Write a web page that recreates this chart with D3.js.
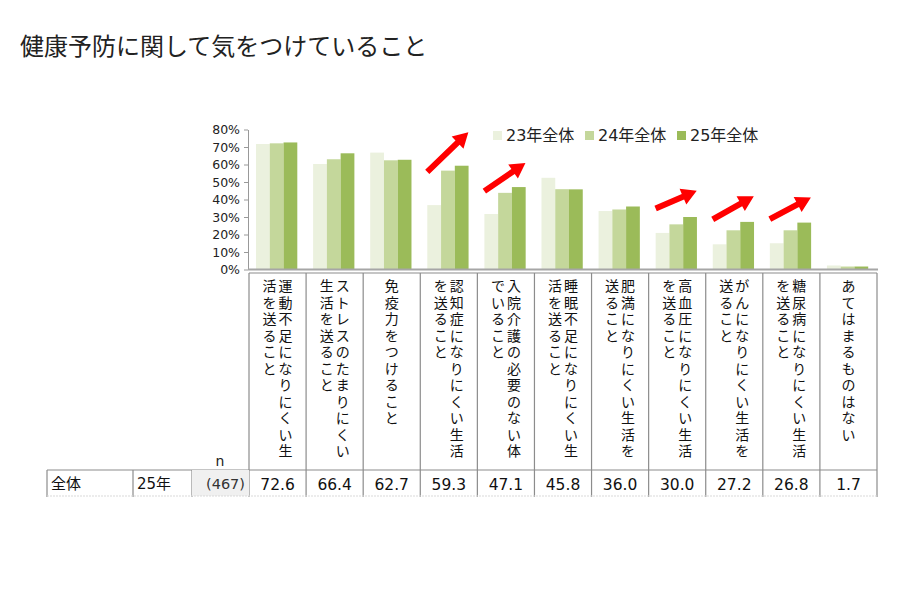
<!DOCTYPE html>
<html>
<head>
<meta charset="utf-8">
<script src="https://cdn.jsdelivr.net/npm/d3@7"></script>
<style>
  body { margin: 0; background: #fff; }
  svg { display: block; }
  text { font-family: "DejaVu Sans", "Noto Sans CJK JP", sans-serif; }
  .jp { font-family: "Noto Sans CJK JP", sans-serif; }
</style>
</head>
<body>
<svg id="chart" width="900" height="600"></svg>
<script>
// category labels, already broken into the columns the reference uses
const labelLines = [
  ["運動不足になりにくい生", "活を送ること"],
  ["ストレスのたまりにくい", "生活を送ること"],
  ["免疫力をつけること"],
  ["認知症になりにくい生活", "を送ること"],
  ["入院介護の必要のない体", "でいること"],
  ["睡眠不足になりにくい生", "活を送ること"],
  ["肥満になりにくい生活を", "送ること"],
  ["高血圧になりにくい生活", "を送ること"],
  ["がんになりにくい生活を", "送ること"],
  ["糖尿病になりにくい生活", "を送ること"],
  ["あてはまるものはない"]
];
const categories = labelLines.map(l => l.join(""));

const series = ["23年全体", "24年全体", "25年全体"];
const colors = ["#ebf1de", "#c4d79b", "#9bbb59"];

const values23 = [71.7, 60.3, 66.8, 36.8, 31.7, 52.4, 33.4, 20.9, 14.4, 15.0, 2.3];
const values24 = [72.1, 63.0, 62.4, 56.5, 43.8, 45.9, 34.3, 25.8, 22.4, 22.4, 1.7];
const values25 = [72.6, 66.4, 62.7, 59.3, 47.1, 45.8, 36.0, 30.0, 27.2, 26.8, 1.7];
const seriesValues = [values23, values24, values25];

const yTicks = [0, 10, 20, 30, 40, 50, 60, 70, 80];

// red arrows: category and start/end level in %
const arrows = [
  { cat: categories[3], from: 55.8, to: 78.5 },
  { cat: categories[4], from: 44.8, to: 60.9 },
  { cat: categories[7], from: 34.9, to: 45.0 },
  { cat: categories[8], from: 28.7, to: 41.8 },
  { cat: categories[9], from: 28.8, to: 41.2 }
];

const rowHead = ["全体", "25年"];
const rowN = "(467)";

const svg = d3.select("#chart");

svg.append("text")
   .attr("class", "jp")
   .attr("x", 20).attr("y", 55)
   .attr("font-size", 24)
   .attr("fill", "#222")
   .text("健康予防に関して気をつけていること");

const x0 = d3.scaleBand().domain(categories).range([249, 877]).padding(0);
const bw = x0.bandwidth();
const x1 = d3.scaleBand().domain(series).range([bw * 0.123, bw * 0.846]).padding(0);
const y = d3.scaleLinear().domain([0, 80]).range([269.5, 129.5]);

// y axis
const yAxis = svg.append("g")
   .attr("transform", "translate(248,0)")
   .call(d3.axisLeft(y).tickValues(yTicks).tickSize(4).tickSizeOuter(0).tickFormat(d => d + "%"));
yAxis.select(".domain").attr("stroke", "#999");
yAxis.selectAll(".tick line").attr("stroke", "#999");
yAxis.selectAll(".tick text")
   .attr("font-family", "DejaVu Sans")
   .attr("font-size", 12.5)
   .attr("fill", "#222")
   .attr("x", -8);

// bars
const groups = svg.append("g").selectAll("g")
   .data(categories)
   .enter()
   .append("g")
   .attr("transform", d => `translate(${x0(d)},0)`);

groups.selectAll("rect")
   .data((d, i) => series.map((s, k) => ({ s, k, v: seriesValues[k][i] })))
   .enter()
   .append("rect")
   .attr("x", d => x1(d.s))
   .attr("width", x1.bandwidth())
   .attr("y", d => y(d.v))
   .attr("height", d => y(0) - y(d.v))
   .attr("fill", d => colors[d.k]);

// x axis baseline
svg.append("line")
   .attr("x1", 248).attr("x2", 878)
   .attr("y1", y(0)).attr("y2", y(0))
   .attr("stroke", "#a6a6a6").attr("stroke-width", 2);

// arrows
function arrowPath(x1p, y1p, x2p, y2p) {
  const dx = x2p - x1p, dy = y2p - y1p;
  const L = Math.hypot(dx, dy);
  const ux = dx / L, uy = dy / L;
  const nx = -uy, ny = ux;
  const hl = 15, hw = 8.5, sw = 3;
  const bx = x2p - ux * hl, by = y2p - uy * hl;
  const pts = [
    [x1p + nx * sw, y1p + ny * sw],
    [bx + nx * sw, by + ny * sw],
    [bx + nx * hw, by + ny * hw],
    [x2p, y2p],
    [bx - nx * hw, by - ny * hw],
    [bx - nx * sw, by - ny * sw],
    [x1p - nx * sw, y1p - ny * sw]
  ];
  return "M" + pts.map(p => p.join(",")).join("L") + "Z";
}

svg.append("g").selectAll("path")
   .data(arrows)
   .enter()
   .append("path")
   .attr("d", d => arrowPath(x0(d.cat) + 7, y(d.from), x0(d.cat) + bw - 9, y(d.to)))
   .attr("fill", "#ff0000");

// legend
const legend = svg.append("g").selectAll("g")
   .data(series)
   .enter()
   .append("g")
   .attr("transform", (d, i) => `translate(${493 + i * 92},131)`);
legend.append("rect")
   .attr("width", 9).attr("height", 9)
   .attr("fill", (d, i) => colors[i]);
legend.append("text")
   .attr("x", 13).attr("y", 10)
   .attr("font-size", 16)
   .attr("fill", "#222")
   .text(d => d);

// label table
const tableTop = 273, rowTop = 470, rowBottom = 496;
const grid = svg.append("g").attr("stroke", "#8c8c8c").attr("stroke-width", 1.2);

grid.append("line").attr("x1", 249).attr("x2", 877).attr("y1", tableTop).attr("y2", tableTop);
grid.selectAll("line.col")
   .data(categories.concat(["_end"]))
   .enter()
   .append("line")
   .attr("class", "col")
   .attr("x1", d => d === "_end" ? 877 : x0(d))
   .attr("x2", d => d === "_end" ? 877 : x0(d))
   .attr("y1", tableTop).attr("y2", rowBottom + 1);

svg.append("rect")
   .attr("x", 192).attr("y", rowTop)
   .attr("width", 249 - 192).attr("height", rowBottom - rowTop)
   .attr("fill", "#f0f0f0");

grid.append("line").attr("x1", 47).attr("x2", 877).attr("y1", rowTop).attr("y2", rowTop);
grid.selectAll("line.head")
   .data([47, 133, 192])
   .enter()
   .append("line")
   .attr("class", "head")
   .attr("x1", d => d).attr("x2", d => d)
   .attr("y1", rowTop).attr("y2", rowBottom + 1);
svg.append("line")
   .attr("x1", 47).attr("x2", 877)
   .attr("y1", rowBottom).attr("y2", rowBottom)
   .attr("stroke", "#d9d9d9").attr("stroke-dasharray", "2,1");

// vertical category labels, one glyph per text, columns right to left
const pitch = 16.5;
const labelG = svg.append("g").selectAll("g")
   .data(labelLines)
   .enter()
   .append("g")
   .attr("transform", (d, i) => `translate(${x0(categories[i]) + bw / 2},0)`);

labelG.each(function (lines) {
  const g = d3.select(this);
  lines.forEach((line, j) => {
    const cx = lines.length === 1 ? 0 : 8 - j * 16;
    g.selectAll(null)
     .data(Array.from(line))
     .enter()
     .append("text")
     .attr("class", "jp")
     .attr("x", cx)
     .attr("y", (c, k) => 285 + k * pitch)
     .attr("text-anchor", "middle")
     .attr("dominant-baseline", "central")
     .attr("font-size", 14)
     .attr("fill", "#111")
     .text(c => c);
  });
});

svg.append("text")
   .attr("x", 220).attr("y", 466)
   .attr("text-anchor", "middle")
   .attr("font-size", 14)
   .attr("fill", "#222")
   .text("n");

// data row
svg.append("text").attr("class", "jp")
   .attr("x", 51).attr("y", 489)
   .attr("font-size", 15).attr("fill", "#111")
   .text(rowHead[0]);
svg.append("text")
   .attr("x", 137).attr("y", 489)
   .attr("font-size", 15).attr("fill", "#111")
   .text(rowHead[1]);
svg.append("text")
   .attr("x", 245).attr("y", 489)
   .attr("text-anchor", "end")
   .attr("font-size", 14.5).attr("fill", "#333")
   .text(rowN);

svg.append("g").selectAll("text")
   .data(values25)
   .enter()
   .append("text")
   .attr("x", (d, i) => x0(categories[i]) + bw / 2)
   .attr("y", 490)
   .attr("text-anchor", "middle")
   .attr("font-size", 15.5)
   .attr("fill", "#111")
   .text(d => d.toFixed(1));
</script>
</body>
</html>
